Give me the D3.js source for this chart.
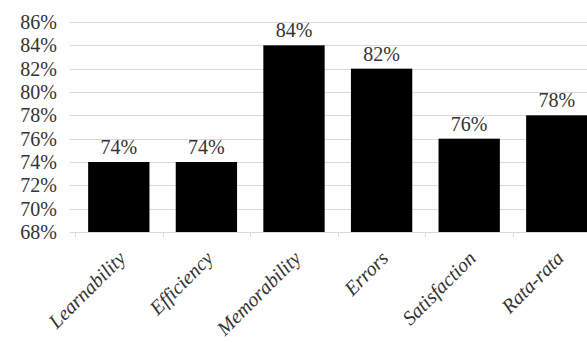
<!DOCTYPE html>
<html><head><meta charset="utf-8">
<script src="https://cdn.jsdelivr.net/npm/d3@7"></script>
</head><body style="margin:0;background:#fff">
<script>
const categories = ["Learnability","Efficiency","Memorability","Errors","Satisfaction","Rata-rata"];
const values = [74, 74, 84, 82, 76, 78];
const yTicks = [68,70,72,74,76,78,80,82,84,86];

const W = 587, H = 343;
const FONT = "Liberation Serif";
const svg = d3.select("body").append("svg").attr("width", W).attr("height", H)
  .style("display", "block").style("font-family", `"${FONT}"`);

const y = d3.scaleLinear().domain([68, 86]).range([232, 22]);
const x = d3.scaleBand().domain(categories).range([75, 600.6]).paddingInner(0.3).paddingOuter(0.15);

// gridlines
svg.append("g").selectAll("line").data(yTicks).join("line")
  .attr("x1", 70).attr("x2", W)
  .attr("y1", d => Math.round(y(d)) + 0.5).attr("y2", d => Math.round(y(d)) + 0.5)
  .attr("stroke", "#d9d9d9").attr("stroke-width", 1);

// y axis labels
const yAxis = d3.axisLeft(y).tickValues(yTicks).tickFormat(d => d + "%").tickSize(0).tickPadding(0);
const gy = svg.append("g").attr("transform", "translate(57,0)").call(yAxis);
gy.attr("font-family", null).attr("font-size", null);
gy.select(".domain").remove();
gy.selectAll("text").style("font-family", `"${FONT}"`).style("font-size", "20px").attr("fill", "#333");

// bars
svg.append("g").selectAll("rect").data(values).join("rect")
  .attr("x", (d, i) => x(categories[i]))
  .attr("width", x.bandwidth())
  .attr("y", d => y(d))
  .attr("height", d => y(68) - y(d))
  .attr("fill", "#000");

// value labels
svg.append("g").selectAll("text").data(values).join("text")
  .attr("x", (d, i) => x(categories[i]) + x.bandwidth() / 2)
  .attr("y", d => y(d) - 8)
  .attr("text-anchor", "middle")
  .style("font-family", `"${FONT}"`).style("font-size", "20px").attr("fill", "#333")
  .text(d => d + "%");

// bottom axis
const xAxis = d3.axisBottom(x).tickSize(0).tickPadding(0).tickFormat(d => d);
const gx = svg.append("g").attr("transform", `translate(0,${Math.round(y(68)) + 0.5})`).call(xAxis);
gx.attr("font-family", null).attr("font-size", null);
gx.select(".domain").remove();
gx.selectAll(".tick text")
  .style("font-family", `"${FONT}"`)
  .style("font-style", "italic")
  .style("font-size", "20px").attr("fill", "#333")
  .attr("text-anchor", "end")
  .attr("dy", 0)
  .attr("transform", "translate(8,27) rotate(-45)");

const bounds = categories.map(c => x(c) - x.step() * x.paddingInner() / 2);
svg.append("g").selectAll("line").data(bounds).join("line")
  .attr("x1", d => Math.round(d) + 0.5).attr("x2", d => Math.round(d) + 0.5)
  .attr("y1", Math.round(y(68))).attr("y2", Math.round(y(68)) + 5)
  .attr("stroke", "#d9d9d9");
</script>
</body></html>
